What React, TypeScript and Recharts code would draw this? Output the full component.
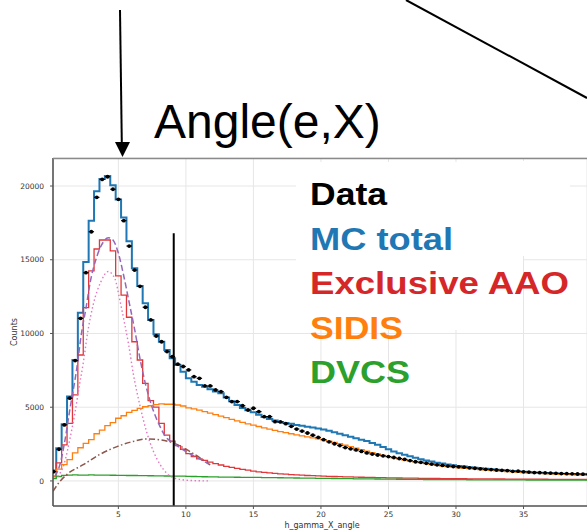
import React from 'react'
import { ComposedChart, Line, Scatter, XAxis, YAxis, CartesianGrid, ReferenceLine } from 'recharts'

// histogram bins are 0.4 wide, starting at 0
const binWidth = 0.4

const mcTotal = [
  700, 2220, 3850, 5720, 8200, 11400, 14850, 17650, 19640, 20480,
  20680, 20050, 19080, 17870, 16250, 14420, 13220, 12050, 10920, 9950,
  9440, 8880, 8320, 7860, 7410, 6960, 6730, 6510, 6390, 6220,
  6060, 5950, 5650, 5400, 5150, 4950, 4800, 4650, 4480, 4330,
  4200, 4100, 4000, 3930, 3870, 3800, 3740, 3680, 3620, 3560,
  3480, 3400, 3300, 3200, 3100, 3000, 2900, 2800, 2700, 2580,
  2450, 2300, 2150, 2000, 1880, 1770, 1670, 1570, 1470, 1390,
  1310, 1240, 1180, 1120, 1070, 1020, 975, 935, 895, 860,
  825, 790, 760, 730, 700, 670, 640, 615, 590, 570,
  550, 535, 520, 505, 490, 478, 466, 455, 445, 435,
]

const exclusiveAAO = [
  300, 1220, 2440, 3900, 5830, 8540, 11750, 14250, 15730, 16340,
  16340, 15600, 13900, 12600, 11100, 9440, 8200, 6620, 5450, 5000,
  3900, 3100, 2700, 2400, 2150, 1850, 1650, 1500, 1400, 1280,
  1180, 1080, 990, 920, 850, 790, 730, 670, 620, 580,
  545, 510, 480, 455, 430, 410, 390, 370, 355, 340,
  325, 310, 300, 290, 280, 270, 260, 250, 242, 235,
  228, 220, 213, 207, 200, 195, 190, 185, 180, 175,
  170, 166, 162, 158, 155, 152, 149, 146, 143, 140,
  137, 135, 132, 130, 128, 126, 124, 122, 120, 118,
  116, 114, 112, 110, 108, 106, 104, 102, 100, 98,
]

const sidis = [
  300, 800, 1100, 1450, 1900, 2250, 2550, 2800, 3200, 3450,
  3750, 3950, 4250, 4420, 4650, 4780, 4920, 5030, 5100, 5180,
  5220, 5200, 5200, 5150, 5080, 4960, 4880, 4800, 4700, 4600,
  4500, 4400, 4290, 4180, 4070, 3970, 3870, 3780, 3690, 3600,
  3510, 3430, 3350, 3280, 3200, 3130, 3060, 2990, 2920, 2850,
  2780, 2700, 2610, 2520, 2420, 2320, 2220, 2120, 2020, 1920,
  1830, 1740, 1650, 1570, 1490, 1420, 1350, 1290, 1230, 1170,
  1110, 1060, 1010, 970, 930, 890, 860, 830, 800, 770,
  740, 710, 690, 660, 640, 610, 590, 570, 550, 530,
  510, 495, 480, 465, 450, 440, 430, 420, 410, 400,
]

const dvcs = [
  150, 300, 380, 400, 410, 400, 395, 405, 400, 395,
  390, 385, 380, 375, 370, 370, 360, 355, 350, 345,
  340, 335, 330, 325, 320, 310, 300, 295, 285, 280,
  270, 265, 260, 255, 250, 245, 240, 238, 235, 230,
  225, 220, 215, 210, 205, 200, 195, 190, 185, 180,
  175, 170, 165, 160, 155, 150, 146, 142, 138, 134,
  130, 126, 122, 118, 114, 110, 107, 104, 101, 98,
  95, 92, 90, 88, 86, 84, 82, 80, 78, 76,
  74, 72, 70, 69, 68, 67, 66, 65, 64, 63,
  62, 61, 60, 59, 58, 57, 56, 55, 54, 53,
]

const dataCounts = [
  630, 2150, 3800, 5610, 8160, 11030, 14120, 16900, 19230, 20450,
  20630, 19780, 19100, 17650, 15930, 14300, 13200, 11780, 10920, 9830,
  9440, 8770, 8430, 7920, 7760, 7530, 7070, 6960, 6450, 6440,
  6170, 6060, 5670, 5380, 5380, 5100, 4810, 4930, 4700, 4360,
  4360, 4020, 4000, 3880, 3700, 3520, 3380, 3250, 3100, 2950,
  2800, 2650, 2520, 2400, 2260, 2180, 2100, 2000, 1900, 1820,
  1760, 1700, 1650, 1590, 1520, 1460, 1380, 1300, 1260, 1200,
  1140, 1090, 1050, 1010, 980, 960, 930, 890, 860, 820,
  790, 770, 740, 720, 700, 650, 660, 620, 600, 570,
  560, 545, 530, 515, 500, 490, 480, 470, 460, 450,
]

// fit curves (total, gaussian, background)
const fitTotalX = [0.3, 0.7, 1.05, 1.4, 1.9, 2.3, 2.6, 2.9, 3.4, 3.9, 4.25, 4.6, 5.0, 5.4, 5.8, 6.2, 6.6, 7.0, 7.5, 8.0, 8.5, 9.1, 9.8, 10.7, 11.7]
const fitTotalY = [300, 1200, 2780, 4800, 7500, 10200, 11700, 13400, 15200, 16220, 16500, 16340, 15440, 13900, 12100, 10300, 8300, 6600, 5000, 3850, 3000, 2550, 2100, 1650, 1150]
const fitGaussX = [0.5, 1.0, 1.4, 1.8, 2.1, 2.4, 2.75, 3.15, 3.7, 4.25, 4.75, 5.1, 5.5, 5.75, 6.1, 6.6, 7.1, 7.6, 8.1, 8.6, 9.3, 10.6, 11.8]
const fitGaussY = [300, 1200, 2800, 4700, 6400, 8000, 10200, 12000, 13500, 14200, 13700, 12300, 10500, 9300, 7300, 5100, 3300, 2000, 1100, 500, 150, 20, 0]
const fitBkgX = [0.16, 0.7, 1.2, 2.4, 3.6, 4.9, 6.1, 7.1, 8.1, 9.1, 10.1, 11.1, 11.8]
const fitBkgY = [-700, 0, 450, 1100, 1780, 2330, 2680, 2850, 2790, 2560, 2100, 1530, 1085]

const cutX = 9.1
const cutTop = 16800

const xTicks = [5, 10, 15, 20, 25, 30, 35]
const yTicks = [0, 5000, 10000, 15000, 20000]

const legendItems = [
  { label: 'Data', color: '#000000', width: 77 },
  { label: 'MC total', color: '#1f77b4', width: 143 },
  { label: 'Exclusive AAO', color: '#d62728', width: 259 },
  { label: 'SIDIS', color: '#ff7f0e', width: 93 },
  { label: 'DVCS', color: '#2ca02c', width: 100 },
]

const histRows = Array.from({ length: mcTotal.length + 1 }, (_, i) => {
  const k = Math.min(i, mcTotal.length - 1)
  return { x: +(i * binWidth).toFixed(2), mc: mcTotal[k], aao: exclusiveAAO[k], sidis: sidis[k], dvcs: dvcs[k] }
})
const dataRows = dataCounts.map((y, i) => ({ x: +(i * binWidth + binWidth / 2).toFixed(2), y }))
const toRows = (xs: number[], ys: number[]) => xs.map((x, i) => ({ x, y: ys[i] }))

const tickStyle = { fontSize: 7.5, fontFamily: 'DejaVu Sans', fill: '#333' }

const DataPoint = (props: any) => {
  const { cx, cy } = props
  if (cx == null || cy == null) return null
  return (
    <g>
      <line x1={cx - 2.7} x2={cx + 2.7} y1={cy} y2={cy} stroke="#000" strokeWidth={1.2} />
      <circle cx={cx} cy={cy} r={1.9} fill="#000" />
    </g>
  )
}

const App = () => {
  return (
    <div style={{ position: 'absolute', left: 0, top: 0, width: 587, height: 532, background: '#fff' }}>
      <ComposedChart width={587} height={532} data={histRows} margin={{ top: 158, right: 0, bottom: 0, left: 0 }}>
        <CartesianGrid stroke="#e6e6e6" />
        <XAxis
          type="number"
          dataKey="x"
          domain={[0.16, 39.7]}
          allowDataOverflow
          ticks={xTicks}
          height={26}
          tickSize={3}
          tickMargin={2.5}
          tick={tickStyle}
          axisLine={{ stroke: '#555', strokeWidth: 1.6 }}
          tickLine={{ stroke: '#555' }}
        />
        <YAxis
          type="number"
          domain={[-1700, 21900]}
          allowDataOverflow
          ticks={yTicks}
          width={53}
          tickSize={3}
          tickMargin={6}
          tick={tickStyle}
          axisLine={{ stroke: '#555', strokeWidth: 1.6 }}
          tickLine={{ stroke: '#555' }}
        />
        <Line dataKey="mc" type="stepAfter" stroke="#1f77b4" strokeWidth={2} dot={false} isAnimationActive={false} />
        <Line dataKey="aao" type="stepAfter" stroke="#e0383a" strokeWidth={1.3} dot={false} isAnimationActive={false} />
        <Line dataKey="sidis" type="stepAfter" stroke="#ff7f0e" strokeWidth={1.3} dot={false} isAnimationActive={false} />
        <Line dataKey="dvcs" type="stepAfter" stroke="#2ca02c" strokeWidth={1.3} dot={false} isAnimationActive={false} />
        <Line data={toRows(fitGaussX, fitGaussY)} dataKey="y" type="monotone" stroke="#e377c2" strokeWidth={1.4} strokeDasharray="1.5 2.5" dot={false} isAnimationActive={false} />
        <Line data={toRows(fitBkgX, fitBkgY)} dataKey="y" type="monotone" stroke="#8c564b" strokeWidth={1.5} strokeDasharray="6 2.5 1.5 2.5" dot={false} isAnimationActive={false} />
        <Line data={toRows(fitTotalX, fitTotalY)} dataKey="y" type="monotone" stroke="#9467bd" strokeWidth={1.5} strokeDasharray="6 3" dot={false} isAnimationActive={false} />
        <Scatter data={dataRows} dataKey="y" shape={DataPoint} isAnimationActive={false} />
        <ReferenceLine segment={[{ x: cutX, y: -1700 }, { x: cutX, y: cutTop }]} stroke="#000" strokeWidth={2} />
      </ComposedChart>
      <svg width={587} height={532} style={{ position: 'absolute', left: 0, top: 0, pointerEvents: 'none' }}>
        <line x1={53} x2={587} y1={158.5} y2={158.5} stroke="#8a8a8a" strokeWidth={1.6} />
        <rect x={296} y={162} width={227} height={168} fill="#fff" />
        <rect x={523} y={161} width={47} height={95} fill="#fff" />
        <line x1={120} y1={10} x2={121.8} y2={143} stroke="#000" strokeWidth={2} />
        <polygon points="115,142 130,142 122.5,157" fill="#000" />
        <line x1={406} y1={0} x2={587} y2={98} stroke="#000" strokeWidth={2} />
        <text x={154} y={138} fontFamily="'Liberation Sans', Arial, sans-serif" fontSize={48} fill="#000">
          Angle(e,X)
        </text>
        {legendItems.map((item, i) => (
          <text
            key={item.label}
            x={310}
            y={205 + i * 44.5}
            fontFamily="'Liberation Sans', Arial, sans-serif"
            fontWeight="bold"
            fontSize={32}
            fill={item.color}
            textLength={item.width}
            lengthAdjust="spacingAndGlyphs"
          >
            {item.label}
          </text>
        ))}
        <text x={16.5} y={332} transform="rotate(-90 16.5 332)" textAnchor="middle" fontFamily="'DejaVu Sans'" fontSize={8} fill="#333">
          Counts
        </text>
        <text x={322} y={527.5} textAnchor="middle" fontFamily="'DejaVu Sans'" fontSize={8} fill="#333">
          h_gamma_X_angle
        </text>
      </svg>
    </div>
  )
}

export default App
